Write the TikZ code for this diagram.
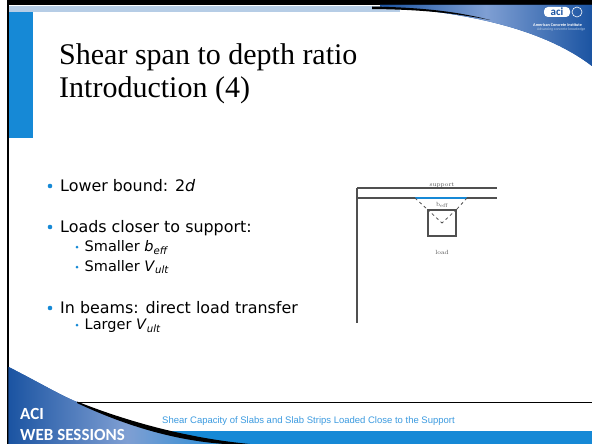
\documentclass[tikz,border=0pt]{standalone}
\usepackage{fontspec}
\usepackage{xcolor}
\usepackage{tikz}
\usetikzlibrary{calc}

\newfontfamily\titlefont{Liberation Serif}
\newfontfamily\itemfont{DejaVu Sans}
\newfontfamily\footfont{Liberation Sans}
\newfontfamily\brandfont{Carlito}

\definecolor{acibar}{HTML}{1689D6}
\definecolor{acilight}{HTML}{B6CDE6}
\definecolor{acidark}{HTML}{1B54A2}
\definecolor{acimid}{HTML}{7F9FD3}
\definecolor{acifoot}{HTML}{3C9BE0}
\definecolor{beamgray}{HTML}{505050}

\begin{document}
\begin{tikzpicture}[x=1pt, y=-1pt,
		title/.style={anchor=base west, inner sep=0pt, font=\titlefont\fontsize{30}{34}\selectfont},
		item/.style={anchor=base west, inner sep=0pt, font=\itemfont\fontsize{15.9}{18}\selectfont},
		subitem/.style={anchor=base west, inner sep=0pt, font=\itemfont\fontsize{14.5}{16}\selectfont},
		brand/.style={anchor=base west, inner sep=0pt, text=white, font=\brandfont\bfseries\fontsize{17}{19}\selectfont},
		tiny/.style={inner sep=0pt, text=beamgray, font=\fontsize{6}{6}\selectfont},
		beam/.style={draw=beamgray, line width=1.2pt},
		spread/.style={draw=beamgray, line width=0.8pt, dash pattern=on 3pt off 3pt}]
		\def\xl{357};
		\def\xr{497};
		\def\ys{188};
		\def\yb{198};
		
		\useasboundingbox (0,0) rectangle (592,444);
		\fill[white] (0,0) rectangle (592,444);
		
		\fill[black] (7,0) rectangle (592,5.5);
		\fill[acilight] (8,6.5) rectangle (400,12);
		\fill[acibar] (8,12) rectangle (33.3,138);
		
		\coordinate (swtop) at (380,5);
		\coordinate (swright) at (592,66);
		\fill[acidark] (swtop) -- (380,6.5) .. controls (470,12) and (545,30) .. (swright) -- (592,5) -- cycle;
		\shade[left color=acidark, right color=acidark, middle color=acimid] (swtop) -- (380,6.5) .. controls (470,12) and (545,30) .. (swright) -- (592,5) -- cycle;
		\fill[black] (372,6.5) .. controls (420,7.5) and (455,11) .. (490,20) .. controls (455,13) and (420,9.5) .. (372,9) -- cycle;
		
		\node[inner sep=1pt, fill=white, rounded corners=4pt, minimum width=26pt, minimum height=10pt, text=acidark, font=\brandfont\bfseries\fontsize{11}{11}\selectfont] (logo) at (557,12) {aci};
		\draw[white, line width=0.6pt] (577,12) circle (5pt);
		\node[anchor=west, inner sep=0pt, text=white, font=\brandfont\bfseries\fontsize{4.2}{5}\selectfont] (institute) at (533,25) {American Concrete Institute};
		\node[anchor=west, inner sep=0pt, text=acilight, font=\brandfont\fontsize{3.8}{4}\selectfont] (motto) at (537,30) {Advancing concrete knowledge};
		
		\draw[black, line width=1.5pt] (8,0) -- (8,444);
		
		\node[title] (title1) at (59,65) {Shear span to depth ratio};
		\node[title] (title2) at (59,97) {Introduction (4)};
		
		\fill[acibar] (50,186) circle (2.3pt);
		\node[item] (lower) at (60,191) {Lower bound: 2\textit{d}};
		\fill[acibar] (50,227) circle (2.3pt);
		\node[item] (closer) at (60,232) {Loads closer to support:};
		\fill[acibar] (77,247) circle (1.5pt);
		\node[subitem] (beffitem) at (84.5,251.5) {Smaller \textit{b}\textsubscript{\textit{eff}}};
		\fill[acibar] (77,267) circle (1.5pt);
		\node[subitem] (vultitem) at (84.5,271) {Smaller \textit{V}\textsubscript{\textit{ult}}};
		\fill[acibar] (50,308) circle (2.3pt);
		\node[item] (beams) at (60,313) {In beams: direct load transfer};
		\fill[acibar] (77,325) circle (1.5pt);
		\node[subitem] (larger) at (84.5,329.5) {Larger \textit{V}\textsubscript{\textit{ult}}};
		
		\draw[beam] (\xl,\ys) -- (\xr,\ys);
		\draw[beam] (\xl,\yb) -- (\xr,\yb);
		\draw[beam] (\xl,\ys) -- (\xl,323);
		\node[tiny, anchor=base] (support) at (442,186) {support};
		\coordinate (bl) at (415,\yb);
		\coordinate (br) at (467,\yb);
		\draw[acibar, line width=1.8pt] (bl) -- (br);
		\node[tiny, anchor=base] (beff) at (442,206) {b\textsubscript{eff}};
		\node[beam, minimum width=28pt, minimum height=26pt] (loadbox) at (442,223) {};
		\draw[spread] (bl) -- (loadbox.north west);
		\draw[spread] (br) -- (loadbox.north east);
		\draw[spread] (loadbox.north west) -- (loadbox.center);
		\draw[spread] (loadbox.north east) -- (loadbox.center);
		\node[tiny, anchor=base] (load) at (442,254) {load};
		
		\fill[acibar] (150,431) rectangle (592,444);
		\fill[acidark] (8.7,367) .. controls (40,383) and (60,395) .. (77,402) .. controls (130,424) and (190,440) .. (245,444) -- (8.7,444) -- cycle;
		\shade[left color=acidark, right color=acibar, middle color=acimid] (8.7,367) .. controls (40,383) and (60,395) .. (77,402) .. controls (130,424) and (190,440) .. (245,444) -- (8.7,444) -- cycle;
		\fill[black] (77,401.5) .. controls (130,422.5) and (190,438.5) .. (250,444) -- (225,444) .. controls (180,441) and (130,428) .. (77,403) -- cycle;
		\draw[black, line width=1pt] (77,402) -- (592,402);
		
		\node[brand] (aci) at (20,419.5) {ACI};
		\node[brand] (web) at (20,440.5) {WEB SESSIONS};
		\node[anchor=base west, inner sep=0pt, text=acifoot, font=\footfont\fontsize{9.5}{11}\selectfont] (footer) at (162,423.5) {Shear Capacity of Slabs and Slab Strips Loaded Close to the Support};
	\end{tikzpicture}
\end{document}
